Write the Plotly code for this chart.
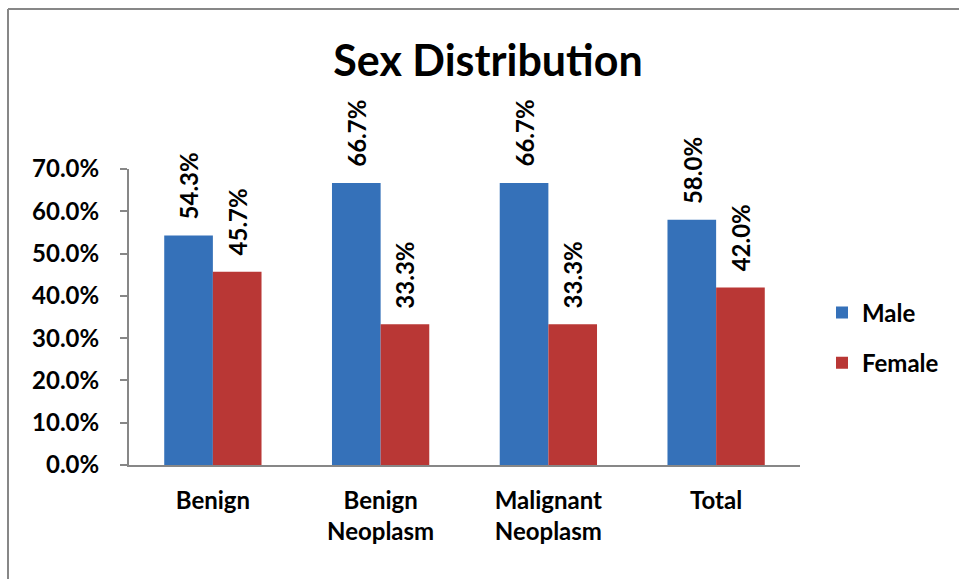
import plotly.graph_objects as go

# Chart data
categories = ["Benign", "Benign<br>Neoplasm", "Malignant<br>Neoplasm", "Total"]
male = [0.543, 0.667, 0.667, 0.580]
female = [0.457, 0.333, 0.333, 0.420]
series_names = ["Male", "Female"]
y_ticks = [0.0, 0.1, 0.2, 0.3, 0.4, 0.5, 0.6, 0.7]

W, H = 959, 579
ML, MR, MT, MB = 129, 159, 169, 114
PW, PH = W - ML - MR, H - MT - MB

FONT = "Lato"
AXIS_GREY = "#878787"
MALE_COLOR = "#3571B9"
FEMALE_COLOR = "#B93735"


def px_to_paper_x(px):
    return (px - ML) / PW


def px_to_paper_y(py):
    return (H - MB - py) / PH


fig = go.Figure()
fig.add_trace(go.Bar(
    x=categories, y=male, name=series_names[0],
    marker=dict(color=MALE_COLOR, line=dict(width=0)),
    legendgroup="m",
))
fig.add_trace(go.Bar(
    x=categories, y=female, name=series_names[1],
    marker=dict(color=FEMALE_COLOR, line=dict(width=0)),
    legendgroup="f",
))

# Rotated value labels above each bar
bar_px = PW / len(categories) * (1 - 0.42) / 2
for values, shift in ((male, -bar_px / 2), (female, bar_px / 2)):
    for cat, v in zip(categories, values):
        fig.add_annotation(
            x=cat, y=v, xref="x", yref="y",
            text=f"{v * 100:.1f}%", textangle=-90,
            showarrow=False, xanchor="center", yanchor="bottom",
            xshift=shift, yshift=14,
            font=dict(family=FONT, size=24, color="black", weight=700),
        )

# Outer frame (top and left edges)
frame = dict(color=AXIS_GREY, width=2)
fig.add_shape(type="line", xref="paper", yref="paper",
              x0=px_to_paper_x(8), x1=px_to_paper_x(W + 2),
              y0=px_to_paper_y(9), y1=px_to_paper_y(9), line=frame)
fig.add_shape(type="line", xref="paper", yref="paper",
              x0=px_to_paper_x(8), x1=px_to_paper_x(8),
              y0=px_to_paper_y(9), y1=px_to_paper_y(H + 2), line=frame)

fig.update_layout(
    width=W, height=H,
    margin=dict(l=ML, r=MR, t=MT, b=MB, pad=0),
    paper_bgcolor="white", plot_bgcolor="white",
    barmode="group", bargap=0.42, bargroupgap=0,
    title=dict(
        text="Sex Distribution", xref="container", yref="container",
        x=488 / W, y=1 - 61 / H, xanchor="center", yanchor="middle",
        font=dict(family=FONT, size=43, color="black", weight=700),
    ),
    legend=dict(
        x=px_to_paper_x(822), y=px_to_paper_y(338),
        xanchor="left", yanchor="middle",
        font=dict(family=FONT, size=24, color="black", weight=700),
        tracegroupgap=16, bgcolor="rgba(0,0,0,0)",
    ),
    showlegend=True,
    xaxis=dict(
        showline=True, linecolor=AXIS_GREY, linewidth=2,
        ticks="", showgrid=False, zeroline=False,
        tickfont=dict(family=FONT, size=24, color="black", weight=700),
        ticklabelstandoff=13,
    ),
    yaxis=dict(
        range=[0, 0.7], tickvals=y_ticks, tickformat=".1%",
        showline=True, linecolor=AXIS_GREY, linewidth=2,
        ticks="outside", ticklen=7, tickwidth=2, tickcolor=AXIS_GREY,
        showgrid=False, zeroline=False,
        tickfont=dict(family=FONT, size=24, color="black", weight=700),
        ticklabelstandoff=16,
    ),
)

fig.write_html("out.html")
